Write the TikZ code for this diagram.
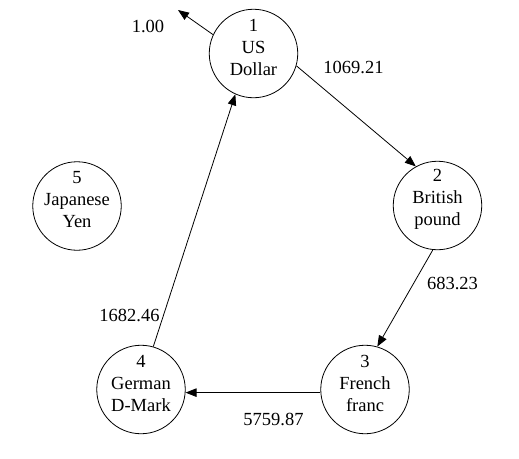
\documentclass[tikz,border=0pt]{standalone}
\usepackage{fontspec}
\setmainfont{Liberation Serif}
\newfontfamily\tnrfont{Liberation Serif}
\usetikzlibrary{arrows.meta}
\begin{document}
\begin{tikzpicture}[x=1pt,y=-1pt,
  font=\tnrfont\fontsize{18.5}{22}\selectfont,
  cur/.style={circle, draw, line width=0.8pt, minimum size=88.5pt, inner sep=0pt},
  curtext/.style={align=center, anchor=north, inner sep=0pt, yshift=6.5pt, font=\tnrfont\fontsize{18.5}{22}\selectfont},
  arr/.style={line width=0.8pt, -{Triangle[length=11pt,width=8.5pt]}},
  num/.style={anchor=base, inner sep=0pt}]
\useasboundingbox (0,0) rectangle (519,458);
\node[cur, label={[curtext]center:1\\US\\Dollar}] (n1) at (253.5,53.5) {};
\node[cur, label={[curtext]center:2\\British\\pound}] (n2) at (437.5,205.5) {};
\node[cur, label={[curtext]center:3\\French\\franc}] (n3) at (365,389.5) {};
\node[cur, label={[curtext]center:4\\German\\D-Mark}] (n4) at (141,389.5) {};
\node[cur, label={[curtext]center:5\\Japanese\\Yen}] (n5) at (77,206) {};
\coordinate (free) at (178,10);
\draw[arr] (n1.155) -- (free);
\draw[arr] (n1.-16) -- (n2.119);
\draw[arr] (n2.-96) -- (n3.74);
\draw[arr] (n3.184.5) -- (n4.-4.5);
\draw[arr] (n4.74.5) -- (n1.-114);
\node[num] (l1) at (148,32) {1.00};
\node[num] (l2) at (353.5,73) {1069.21};
\node[num] (l3) at (452.5,289) {683.23};
\node[num] (l4) at (273.5,425) {5759.87};
\node[num] (l5) at (129.5,321) {1682.46};
\end{tikzpicture}
\end{document}
